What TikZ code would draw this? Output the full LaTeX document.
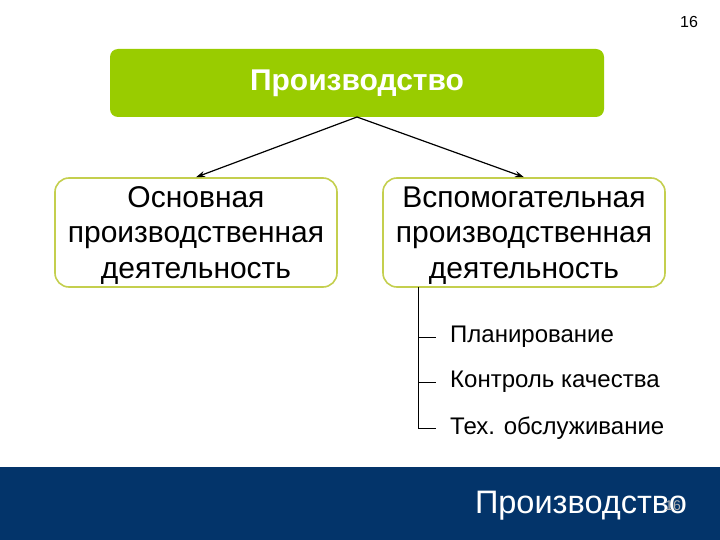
\documentclass[tikz,border=0pt]{standalone}
\usepackage{fontspec}
\setmainfont{Liberation Sans}
\usetikzlibrary{arrows.meta}
\definecolor{topgreen}{HTML}{99CC00}
\definecolor{boxedge}{HTML}{C4CF4E}
\definecolor{navy}{HTML}{03346A}
\tikzset{
  sub/.style={draw=boxedge, line width=1.6pt, rounded corners=14pt, fill=white,
    minimum width=282pt, minimum height=109pt, inner sep=0pt},
  subtext/.style={align=center, inner sep=0pt, font=\fontsize{30}{35.5}\selectfont},
  conn/.style={-{Stealth[length=9pt,width=6pt]}, line width=1.2pt},
  tree/.style={line width=0.9pt},
  leaf/.style={anchor=west, inner sep=0pt, font=\fontsize{24}{26}\selectfont}
}
\begin{document}
\begin{tikzpicture}[x=1pt,y=-1pt]
\useasboundingbox (0,0) rectangle (720,540);
\fill[white] (0,0) rectangle (720,540);
\node[font=\fontsize{16}{18}\selectfont] (pg) at (689,22) {16};
\node[fill=topgreen, rounded corners=8pt, minimum width=494pt, minimum height=68pt, inner sep=0pt,
  text=white, font=\bfseries\fontsize{30}{34}\selectfont] (top) at (357,83) {Производство};
\node[sub] (left) at (196,232.5) {};
\node[subtext] (lefttext) at (196,235.5) {Основная\\производственная\\деятельность};
\node[sub] (right) at (524,232.5) {};
\node[subtext] (righttext) at (524,235.5) {Вспомогательная\\производственная\\деятельность};
\coordinate (apex) at (357,117);
\draw[conn] (apex) -- (left.north);
\draw[conn] (apex) -- (right.north);
\coordinate (t0) at (418,287);
\node[leaf] (l1) at (450,337) {Планирование};
\node[leaf] (l2) at (450,382) {Контроль качества};
\node[leaf] (l3) at (450,428) {Тех. обслуживание};
\draw[tree] (t0) -- (418,428) -- ([xshift=-14pt]l3.west);
\draw[tree] (418,337) -- ([xshift=-14pt]l1.west);
\draw[tree] (418,382) -- ([xshift=-14pt]l2.west);
\fill[navy] (0,467) rectangle (720,540);
\node[text=white, font=\fontsize{32.5}{36}\selectfont] (foot) at (581,506) {Производство};
\node[text=gray!60, font=\fontsize{14}{16}\selectfont] (pg2) at (673,506) {16};
\end{tikzpicture}
\end{document}
